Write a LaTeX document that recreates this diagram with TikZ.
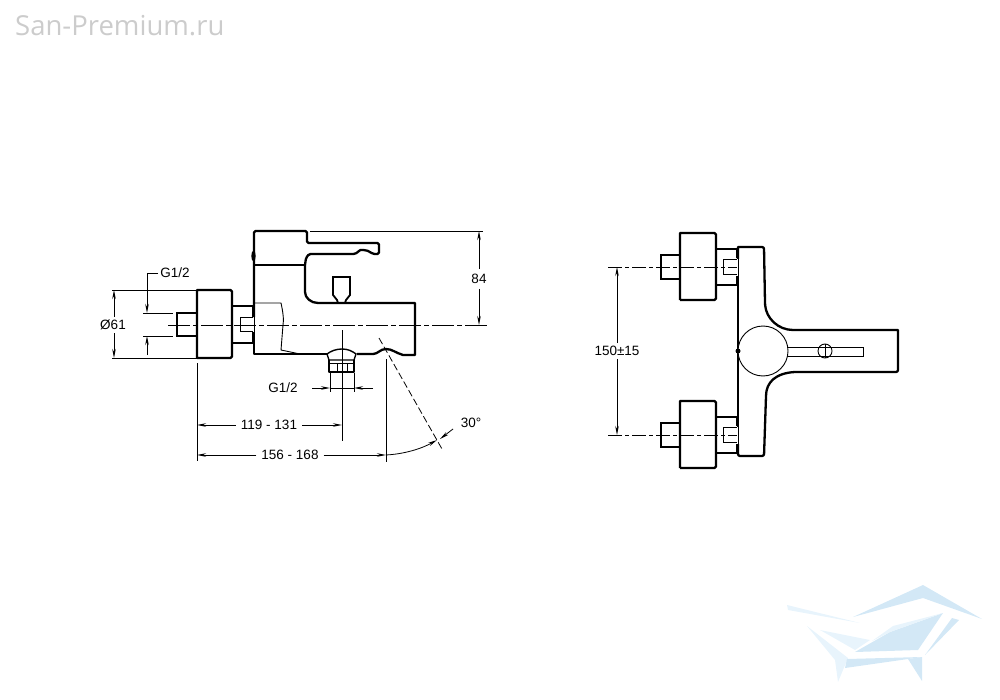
\documentclass[tikz,border=0pt]{standalone}
\usepackage{fontspec}
\setmainfont{Liberation Sans}
\newfontfamily\markfont{Open Sans}
\usetikzlibrary{arrows.meta}
\definecolor{markblue}{HTML}{D3E8F6}
\definecolor{marklight}{HTML}{E8F4FC}

\begin{document}
\begin{tikzpicture}[
    x=1pt, y=-1pt,
    contour/.style={draw=black, line width=2.3pt, line join=round},
    thinline/.style={draw=black, line width=0.9pt},
    midline/.style={draw=black, line width=1.4pt},
    centerline/.style={draw=black, line width=0.9pt, dash pattern=on 22pt off 3pt on 5pt off 3pt},
    sideaxis/.style={draw=black, line width=0.9pt, dash pattern=on 14pt off 3pt on 4pt off 3pt},
    dimline/.style={draw=black, line width=0.8pt},
    dimarrow/.style={dimline, -{Stealth[length=9pt,width=3.5pt]}},
    dimtext/.style={font=\fontsize{13.5}{15}\selectfont, inner sep=5pt}
]
\useasboundingbox (0,0) rectangle (1000,700);

% Watermark
\node[font=\markfont\fontsize{27.5}{30}\selectfont, text=black!20, anchor=west, inner sep=0pt] (sitemark) at (15,26) {San-Premium.ru};
\fill[markblue] (853,617) -- (923,585) -- (982,619) -- (923,598) -- cycle;
\fill[marklight] (787,605) -- (860,623) -- (788,610) -- cycle;
\fill[markblue] (855,652) -- (890,632) -- (943,613) -- (918,650) -- cycle;
\fill[marklight] (872,641) -- (893,626) -- (943,613) -- (890,632) -- cycle;
\fill[marklight] (820,630) -- (870,640) -- (855,650) -- cycle;
\fill[marklight] (807,626) -- (848,658) -- (838,682) -- (835,660) -- cycle;
\fill[markblue] (847,659) -- (922,657) -- (908,659) -- (845,668) -- cycle;
\fill[markblue] (908,659) -- (922,657) -- (922,681) -- cycle;
\fill[markblue] (925,655) -- (952,618) -- (959,620) -- cycle;

% Side view: body and lever
\draw[contour] (254,317) -- (254,233) [rounded corners=1.5pt] -- (254,231) -- (307,231) -- (307,243) -- (379,243) -- (379,254) -- (373,254)
    .. controls (369,251) and (366,250) .. (362,250) .. controls (360,250) and (358,252) .. (355,254) -- (309,254) -- (306,258) -- (305,265);
\draw[contour] (305,265) -- (305,292) .. controls (305,298) and (311,303) .. (318,303) -- (415,303) -- (415,355) -- (403,355)
    .. controls (396,353) and (392,349) .. (386,349) .. controls (380,349) and (378,354) .. (373,354) -- (357,354);
\draw[contour] (328,354) -- (254,354) -- (254,332);
\draw[thinline] (254,317) -- (254,332);
\draw[midline] (254,265) -- (305,265);
\fill (253.5,256) ellipse (2.2 and 5.5);
\draw[thinline] (254,303) -- (281,303) .. controls (283,312) and (284,320) .. (283,325) -- (281,350) -- (300,354);

% Side view: diverter knob
\draw[draw=black, line width=1.8pt] (338,303) -- (337,300) -- (333,295) -- (333,277) -- (350,277) -- (350,295) -- (346,300) -- (345,303);

% Side view: spout outlet
\draw[midline] (327,354) .. controls (331,351) and (336,349) .. (342,349) .. controls (348,349) and (352,351) .. (356,354) -- (354,360) -- (329,360) -- cycle;
\draw[contour] (329,360) -- (329,372) -- (354,372) -- (354,360);
\draw[thinline] (329,363) -- (354,363) (337,363) -- (337,372) (347,363) -- (347,372);

% Side view: connection
\draw[contour] (197,358) -- (197,290) [rounded corners=1.5pt] -- (232,290) -- (232,358) [sharp corners] -- (197,358);
\draw[contour] (232,306) -- (253,306) -- (253,317);
\draw[contour] (232,343) -- (253,343) -- (253,332);
\draw[thinline] (253,317) -- (240,317) -- (240,331) -- (253,331);
\draw[midline] (197,313) -- (177,313) -- (177,336) -- (197,336);
\draw[centerline] (168,325) -- (488,325);

% Side view: dimensions
\draw[dimline] (112,290) -- (197,290) (112,358) -- (197,358);
\node[dimtext, inner sep=3pt] (dia61) at (113,325) {Ø61};
\coordinate (dia61up) at (114,290);
\coordinate (dia61down) at (114,358);
\draw[dimarrow] (dia61.north -| dia61up) -- (dia61up);
\draw[dimarrow] (dia61.south -| dia61down) -- (dia61down);

\draw[dimline] (143,313) -- (173,313) (143,336) -- (173,336);
\node[dimtext, inner sep=2pt] (gleft) at (175,273) {G1/2};
\coordinate (gleftup) at (147,313);
\coordinate (gleftdown) at (147,336);
\coordinate (gleftend) at (147,355);
\draw[dimarrow] (gleft.west) -- (147,273) -- (gleftup);
\draw[dimarrow] (gleftend) -- (gleftdown);

\draw[dimline] (330,373) -- (330,392) (354,373) -- (354,392) (330,388) -- (354,388);
\node[dimtext, inner sep=2pt] (gbottom) at (283,388) {G1/2};
\coordinate (gbottoma) at (330,388);
\coordinate (gbottomb) at (354,388);
\coordinate (gbottomc) at (312,388);
\coordinate (gbottomd) at (373,388);
\draw[dimarrow] (gbottomc) -- (gbottoma);
\draw[dimarrow] (gbottomd) -- (gbottomb);

\draw[dimline] (197,363) -- (197,461);
\draw[dimline] (342,330) -- (342,441);
\draw[dimline] (386,359) -- (386,462);
\coordinate (leftend) at (197,425);
\coordinate (midend) at (342,425);
\node[dimtext] (lenshort) at (269,425) {119 - 131};
\draw[dimarrow] (lenshort) -- (leftend);
\draw[dimarrow] (lenshort) -- (midend);
\coordinate (leftlow) at (197,455);
\coordinate (spoutend) at (386,455);
\node[dimtext] (lenlong) at (290,455) {156 - 168};
\draw[dimarrow] (lenlong) -- (leftlow);
\draw[dimarrow] (lenlong) -- (spoutend);

\draw[dimline, dash pattern=on 7pt off 3pt] (379,338) -- (442,449);
\node[dimtext, inner sep=2pt] (angle30) at (471,423) {30°};
\coordinate (arcend) at (437,440);
\draw[dimarrow] (386,455) .. controls (404,454) and (421,449) .. (arcend);
\draw[dimarrow] (453,429) -- (440,439);

\coordinate (topext) at (479,231);
\coordinate (axisext) at (479,325);
\draw[dimline] (310,231) -- (483,231);
\node[dimtext] (height84) at (479,279) {84};
\draw[dimarrow] (height84) -- (topext);
\draw[dimarrow] (height84) -- (axisext);

% Front view: body
\draw[contour] (738,259) -- (738,247) [rounded corners=2pt] -- (764,247) -- (765,303) [sharp corners] .. controls (766,318) and (778,330) .. (793,330) -- (898,330)
    [rounded corners=2pt] -- (898,372) [sharp corners] -- (795,372) .. controls (776,373) and (766,382) .. (766,396) [rounded corners=2pt] -- (764,456) -- (738,456) [sharp corners] -- (738,444);
\draw[contour] (738,277) -- (738,427);
\draw[thinline] (738,259) -- (738,277) (738,427) -- (738,444);
\node[draw=black, line width=0.9pt, circle, fill=white, minimum size=50pt, inner sep=0pt] (mixerhub) at (763,351) {};
\draw[thinline] (mixerhub.east) ++(0,-4) -- (863,347) -- (863,356) -- (787,356);
\draw[thinline] (825,351) circle (7);
\draw[thinline] (825,344) -- (825,358);
\fill (738,351) circle (2.5);

% Front view: connections
\foreach \cy/\name in {267/up, 435/low}{
  \draw[contour] (680,\cy+33) -- (680,\cy-34) [rounded corners=1.5pt] -- (716,\cy-34) -- (716,\cy+33) [sharp corners] -- (680,\cy+33);
  \draw[contour] (716,\cy-18) -- (737,\cy-18) -- (737,\cy-9);
  \draw[contour] (716,\cy+18) -- (737,\cy+18) -- (737,\cy+9);
  \draw[thinline] (737,\cy-8) -- (723,\cy-8) -- (723,\cy+7) -- (737,\cy+7);
  \draw[midline] (680,\cy-12) -- (661,\cy-12) -- (661,\cy+12) -- (680,\cy+12);
  \draw[sideaxis] (608,\cy) -- (737,\cy);
  \coordinate (axis\name) at (617,\cy);
}

% Front view: dimension
\node[dimtext, inner sep=3pt] (spread) at (617,351) {150±15};
\draw[dimarrow] (spread) -- (axisup);
\draw[dimarrow] (spread) -- (axislow);

\end{tikzpicture}
\end{document}
